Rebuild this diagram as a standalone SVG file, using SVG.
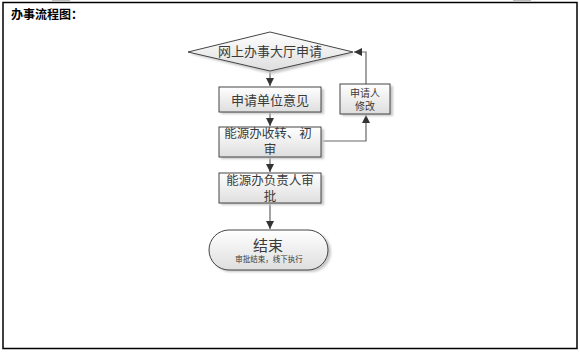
<svg xmlns="http://www.w3.org/2000/svg" width="580" height="352" viewBox="0 0 580 352">
<defs>
<linearGradient id="g" x1="0" y1="0" x2="0" y2="1">
<stop offset="0" stop-color="#ffffff"/>
<stop offset="1" stop-color="#dedede"/>
</linearGradient>
<filter id="sh" x="-10%" y="-10%" width="130%" height="140%">
<feGaussianBlur stdDeviation="1"/>
</filter>
<marker id="ah" markerWidth="10" markerHeight="10" refX="8" refY="4" orient="auto" markerUnits="userSpaceOnUse">
<path d="M0,0 L8,4 L0,8 Z" fill="#333"/>
</marker>
</defs>
<style>
.box{fill:url(#g);stroke:#444;stroke-width:1}
.shd{fill:#c8c8c8;filter:url(#sh)}
.t{font-family:"Liberation Serif","Noto Sans CJK SC",serif;fill:#3a3a3a;text-anchor:middle}
.c{fill:none;stroke:#666;stroke-width:1.2}
</style>
<rect x="3" y="2.5" width="574" height="346" fill="#fff" stroke="#000" stroke-width="1.5"/>
<line x1="52" y1="0.5" x2="70" y2="0.5" stroke="#bbb" stroke-width="1"/>
<line x1="513" y1="0.5" x2="531" y2="0.5" stroke="#bbb" stroke-width="1"/>
<text x="11" y="19" font-family="'Noto Sans CJK SC',sans-serif" font-weight="bold" font-size="12" fill="#000">办事流程图：</text>

<g id="connectors">
<path class="c" d="M270,71 V86" marker-end="url(#ah)"/>
<path class="c" d="M270,112 V126" marker-end="url(#ah)"/>
<path class="c" d="M270,157 V172" marker-end="url(#ah)"/>
<path class="c" d="M270,203 V229" marker-end="url(#ah)"/>
<path class="c" d="M321,141 H366 V115" marker-end="url(#ah)"/>
<path class="c" d="M366,84 V52 H354" marker-end="url(#ah)"/>
</g>

<g id="n1">
<polygon class="shd" points="190,54 272,35 355,54 272,74"/>
<polygon class="box" points="188,52 270,32 353,52 270,71"/>
<text class="t" x="270" y="56" font-size="13">网上办事大厅申请</text>
</g>
<g id="n2">
<rect class="shd" x="221" y="89" width="103" height="25"/>
<rect class="box" x="219" y="87" width="102" height="25"/>
<text class="t" x="270" y="105" font-size="13">申请单位意见</text>
</g>
<g id="n3">
<rect class="shd" x="221" y="129" width="103" height="30"/>
<rect class="box" x="219" y="127" width="102" height="30"/>
<text class="t" x="268" y="138" font-size="12.5">能源办收转、初</text>
<text class="t" x="270" y="154" font-size="12.5">审</text>
</g>
<g id="n4">
<rect class="shd" x="342" y="86" width="51" height="30"/>
<rect class="box" x="340" y="84" width="50" height="30"/>
<text class="t" x="365" y="97" font-size="10">申请人</text>
<text class="t" x="365" y="110" font-size="10">修改</text>
</g>
<g id="n5">
<rect class="shd" x="221" y="175" width="103" height="30"/>
<rect class="box" x="219" y="173" width="102" height="30"/>
<text class="t" x="270" y="185" font-size="12.5">能源办负责人审</text>
<text class="t" x="270" y="201" font-size="12.5">批</text>
</g>
<g id="n6">
<rect class="shd" x="211" y="232" width="120" height="40" rx="20"/>
<rect class="box" x="209" y="230" width="119" height="40" rx="20"/>
<text class="t" x="268" y="251" font-size="15">结束</text>
<text class="t" x="269" y="262" font-size="7.5">审批结束，线下执行</text>
</g>
</svg>
